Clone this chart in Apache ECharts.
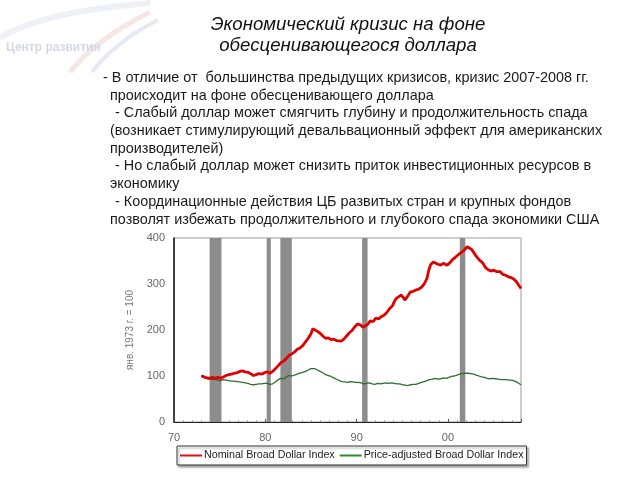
<!DOCTYPE html>
<html><head><meta charset="utf-8">
<script src="https://cdn.jsdelivr.net/npm/echarts@6/dist/echarts.min.js"></script>
<style>html,body{margin:0;padding:0;background:#fff}#c{width:640px;height:480px}</style>
</head><body><div id="c"></div>
<script>
var titleLines = ['Экономический кризис на фоне', 'обесценивающегося доллара'];
var bodyLines = [
  ['- В отличие от  большинства предыдущих кризисов, кризис 2007-2008 гг.', 103],
  ['происходит на фоне обесценивающего доллара', 110],
  ['- Слабый доллар может смягчить глубину и продолжительность спада', 115],
  ['(возникает стимулирующий девальвационный эффект для американских', 110],
  ['производителей)', 110],
  ['- Но слабый доллар может снизить приток инвестиционных ресурсов в', 115],
  ['экономику', 110],
  ['- Координационные действия ЦБ развитых стран и крупных фондов', 115],
  ['позволят избежать продолжительного и глубокого спада экономики США', 110]
];
var yAxisName = 'янв. 1973 г. = 100';
var seriesNames = ['Nominal Broad Dollar Index', 'Price-adjusted Broad Dollar Index'];
var recessions = [[1973.9, 1975.2], [1980.15, 1980.6], [1981.65, 1982.9], [1990.6, 1991.2], [2001.3, 2001.9]];
var nominal = [
[1973.0,100.7],[1973.2,98],[1973.4,97],[1973.6,96],[1973.8,95],[1974.0,94],[1974.2,97],[1974.4,96],[1974.5,95],[1974.7,98],[1974.8,97],[1975.0,96],[1975.1,95],[1975.3,97],[1975.4,98],[1975.7,101],
[1976.0,103],[1976.3,104],[1976.6,106],[1976.9,107],[1977.2,110],[1977.5,111],[1977.8,109],[1978.1,108],[1978.4,105],[1978.7,101],
[1979.0,103],[1979.3,105],[1979.6,104],[1979.9,107],[1980.2,109],[1980.5,106],[1980.8,110],[1981.1,116],[1981.4,122],[1981.7,129],
[1982.0,132],[1982.3,138],[1982.6,145],[1982.9,148],[1983.2,152],[1983.5,158],[1983.8,161],[1984.1,166],[1984.4,174],[1984.7,182],
[1985.0,192],[1985.2,203],[1985.4,200],[1985.7,197],[1986.0,193],[1986.3,187],[1986.6,182],[1986.9,183],[1987.2,179],[1987.5,180],
[1987.8,177],[1988.0,173],[1988.3,176],[1988.6,180],[1988.9,187],[1989.2,194],[1989.5,199],[1989.8,207],[1990.1,213],[1990.4,211],
[1990.7,206],[1990.9,203],[1991.2,212],[1991.5,220],[1991.8,218],[1992.1,226],[1992.4,224],[1992.7,229],[1993.0,232],[1993.3,238],
[1993.6,246],[1993.9,252],[1994.2,265],[1994.5,271],[1994.9,276],[1995.3,265],[1995.6,274],[1995.9,283],[1996.2,284],[1996.5,287],
[1996.8,289],[1997.1,293],[1997.4,300],[1997.7,312],[1997.9,330],[1998.1,342],[1998.4,348],[1998.6,352],[1998.9,343],[1999.2,341],
[1999.5,345],[1999.9,341],[2000.2,346],[2000.5,353],[2000.8,358],[2001.1,363],[2001.4,368],[2001.7,372],[2001.9,376],[2002.1,381],
[2002.3,379],[2002.6,375],[2002.9,366],[2003.2,358],[2003.5,351],[2003.8,346],[2004.1,336],[2004.4,331],[2004.7,328],[2005.0,330],
[2005.3,327],[2005.7,327],[2006.0,321],[2006.3,319],[2006.6,316],[2006.9,314],[2007.2,311],[2007.5,305],[2007.7,299],[2008.0,290]
];
var real = [
[1973.0,101],[1973.3,97],[1973.6,95],[1973.9,93],[1974.2,92],[1974.5,93],[1974.8,91],[1975.1,90],[1975.4,92],[1975.7,91],
[1976.0,90],[1976.3,89],[1976.6,89],[1976.9,88],[1977.2,87],[1977.5,86],[1977.8,85],[1978.1,84],[1978.4,82],[1978.7,81],
[1979.0,82],[1979.3,83],[1979.6,83],[1979.9,84],[1980.2,84],[1980.5,82],[1980.8,83],[1981.1,87],[1981.4,92],[1981.7,95],
[1982.0,94],[1982.3,98],[1982.6,101],[1982.9,100],[1983.2,102],[1983.5,104],[1983.8,106],[1984.1,108],[1984.4,110],[1984.7,113],
[1985.0,116],[1985.2,118],[1985.4,116],[1985.7,113],[1986.0,110],[1986.3,107],[1986.6,103],[1986.9,101],[1987.2,99],[1987.5,96],
[1987.8,93],[1988.1,90],[1988.4,88],[1988.7,87],[1989.0,86],[1989.3,88],[1989.6,87],[1989.9,86],[1990.2,86],[1990.5,85],
[1990.8,83],[1991.1,84],[1991.4,85],[1991.7,83],[1992.0,82],[1992.3,84],[1992.6,83],[1992.9,84],[1993.2,85],[1993.5,84],
[1993.8,85],[1994.1,84],[1994.4,83],[1994.7,83],[1995.0,81],[1995.3,80],[1995.6,79],[1995.9,81],[1996.2,82],[1996.5,82],
[1996.8,84],[1997.1,86],[1997.4,88],[1997.7,90],[1998.0,92],[1998.3,93],[1998.6,95],[1998.9,93],[1999.2,94],[1999.5,96],
[1999.8,95],[2000.1,97],[2000.4,99],[2000.7,100],[2001.0,102],[2001.3,104],[2001.6,105],[2001.9,106],[2002.2,106],[2002.5,105],
[2002.8,104],[2003.1,102],[2003.4,100],[2003.7,98],[2004.0,97],[2004.3,95],[2004.6,94],[2004.9,95],[2005.2,94],[2005.5,93],
[2005.8,92],[2006.1,92],[2006.4,92],[2006.7,91],[2007.0,91],[2007.3,89],[2007.6,86],[2008.0,81]
];

var chart = echarts.init(document.getElementById('c'), null, {renderer: 'canvas'});
var F = '"Liberation Sans", Arial, sans-serif';
var graphics = [];
// faint logo
graphics.push({type: 'bezierCurve', silent: true, shape: {x1: 0, y1: 38, cpx1: 40, cpy1: 12, x2: 150, y2: 3}, style: {stroke: '#eef0f5', lineWidth: 6, fill: null}});
graphics.push({type: 'bezierCurve', silent: true, shape: {x1: 70, y1: 72, cpx1: 95, cpy1: 40, x2: 150, y2: 12}, style: {stroke: '#f7e6e6', lineWidth: 5, fill: null}});
graphics.push({type: 'bezierCurve', silent: true, shape: {x1: 92, y1: 72, cpx1: 115, cpy1: 42, x2: 158, y2: 20}, style: {stroke: '#e6e9f3', lineWidth: 4, fill: null}});
graphics.push({type: 'text', silent: true, left: 6, top: 42, style: {text: 'Центр развития', font: 'bold 12px ' + F, fill: '#d6d9e3'}});
titleLines.forEach(function (t, i) {
  graphics.push({type: 'text', x: 348, y: 25 + i * 21, style: {text: t, font: 'italic 18.6px ' + F, fill: '#111', align: 'center', verticalAlign: 'middle'}});
});
bodyLines.forEach(function (l, i) {
  graphics.push({type: 'text', x: l[1], y: 78 + i * 17.7, style: {text: l[0], font: '14.4px ' + F, fill: '#1a1a1a', align: 'left', verticalAlign: 'middle'}});
});

chart.setOption({
  animation: false,
  backgroundColor: '#fff',
  graphic: graphics,
  grid: {left: 174, right: 119, top: 238, bottom: 58, show: true, borderColor: '#9a9a9a', borderWidth: 1, backgroundColor: 'transparent'},
  legend: {
    data: seriesNames,
    left: 177, top: 446, width: 360,
    itemGap: 5, itemWidth: 22, itemHeight: 2, icon: 'rect',
    padding: [4, 3, 4, 3],
    borderColor: '#333', borderWidth: 1, backgroundColor: '#fff',
    shadowColor: 'rgba(0,0,0,0.35)', shadowOffsetX: 2, shadowOffsetY: 2, shadowBlur: 2,
    textStyle: {fontFamily: F, fontSize: 10.7, color: '#222', padding: [0, 0, 0, -3]}
  },
  xAxis: {
    type: 'value', min: 1970, max: 2008, interval: 10,
    axisLine: {show: true, lineStyle: {color: '#222', width: 1}},
    axisTick: {show: true, inside: true, length: 3, lineStyle: {color: '#555'}},
    minorTick: {show: true, splitNumber: 10, length: 2, lineStyle: {color: '#aaa'}},
    splitLine: {show: false},
    axisLabel: {showMaxLabel: false, margin: 10, fontFamily: F, fontSize: 11, color: '#666',
      formatter: function (v) { var s = String(Math.round(v) % 100); return s.length < 2 ? '0' + s : s; }}
  },
  yAxis: {
    type: 'value', min: 0, max: 400, interval: 100,
    name: yAxisName, nameLocation: 'middle', nameGap: 36, nameRotate: 90,
    nameTextStyle: {fontFamily: F, fontSize: 10, color: '#777'},
    axisLine: {show: true, lineStyle: {color: '#111', width: 1.5}},
    axisTick: {show: false},
    splitLine: {show: false},
    axisLabel: {margin: 9, fontFamily: F, fontSize: 11, color: '#666'}
  },
  series: [
    {name: 'recessions', type: 'line', data: [], z: 1, silent: true,
      markArea: {silent: true, itemStyle: {color: '#8c8c8c'},
        data: recessions.map(function (r) { return [{xAxis: r[0], yAxis: 0}, {xAxis: r[1], yAxis: 400}]; })}},
    {name: seriesNames[1], type: 'line', data: real, showSymbol: false, z: 3,
      itemStyle: {color: '#2f8a2f'}, lineStyle: {color: '#2e6e2e', width: 1.3}},
    {name: seriesNames[0], type: 'line', data: nominal, showSymbol: false, z: 4,
      itemStyle: {color: '#e01010'}, lineStyle: {color: '#e00000', width: 2.8}}
  ]
});
</script></body></html>
